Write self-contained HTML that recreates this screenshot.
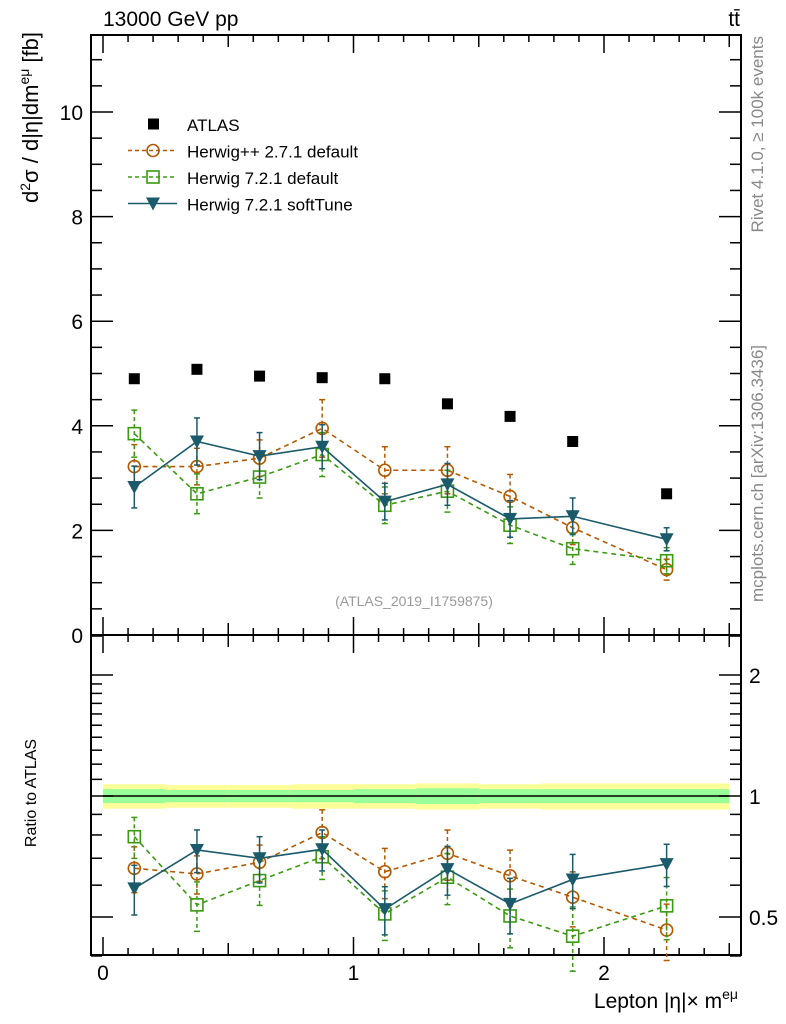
<!DOCTYPE html>
<html><head><meta charset="utf-8">
<style>
html,body{margin:0;padding:0;background:#fff;}
svg{display:block;font-family:"Liberation Sans",sans-serif;}
</style></head>
<body>
<svg id="chart" width="786" height="1024" viewBox="0 0 786 1024" xmlns="http://www.w3.org/2000/svg"></svg>
<script>
const binCenters=[0.125,0.375,0.625,0.875,1.125,1.375,1.625,1.875,2.25];
const binEdges=[0,0.25,0.5,0.75,1,1.25,1.5,1.75,2,2.5];
const atlasVals=[4.9,5.08,4.95,4.92,4.9,4.42,4.18,3.7,2.7];
const hppVals=[3.22,3.22,3.38,3.95,3.15,3.15,2.65,2.05,1.25];
const hppErr=[0.42,0.35,0.35,0.55,0.45,0.45,0.42,0.32,0.2];
const h7Vals=[3.85,2.7,3.02,3.45,2.48,2.75,2.1,1.65,1.42];
const h7Err=[0.45,0.38,0.4,0.42,0.35,0.4,0.35,0.3,0.25];
const softVals=[2.83,3.7,3.42,3.6,2.55,2.88,2.22,2.27,1.83];
const softErr=[0.4,0.45,0.45,0.42,0.35,0.4,0.35,0.35,0.22];
const hppRatio=[0.661,0.640,0.684,0.811,0.648,0.720,0.633,0.560,0.464];
const h7Ratio=[0.792,0.536,0.616,0.706,0.509,0.628,0.503,0.448,0.533];
const softRatio=[0.589,0.734,0.700,0.737,0.523,0.658,0.539,0.620,0.677];
const bandInner=[0.04,0.035,0.035,0.035,0.04,0.045,0.04,0.04,0.04];
const bandOuter=[0.07,0.065,0.065,0.07,0.07,0.075,0.07,0.075,0.075];
const mainYTicks=[0,2,4,6,8,10];
const ratioYTicks=[0.5,1,2];
const xTicks=[0,1,2];

const svg=document.getElementById('chart');
const NS='http://www.w3.org/2000/svg';
function el(tag,attrs,parent){const e=document.createElementNS(NS,tag);for(const k in attrs)e.setAttribute(k,attrs[k]);(parent||svg).appendChild(e);return e;}
const L=91,R=741,T=35,M=635,B=955;
const X=v=>103+v*250.5;
const Ym=v=>635-v*52.3;
const Yr=v=>796-Math.log2(v)*121;

const bands=el('g',{});


for(let i=0;i<binCenters.length;i++){
  const x0=X(binEdges[i]),x1=X(binEdges[i+1]);
  el('rect',{x:x0,y:Yr(1+bandOuter[i]),width:x1-x0,height:Yr(1-bandOuter[i])-Yr(1+bandOuter[i]),fill:'#ffff99'},bands);
}
for(let i=0;i<binCenters.length;i++){
  const x0=X(binEdges[i]),x1=X(binEdges[i+1]);
  el('rect',{x:x0,y:Yr(1+bandInner[i]),width:x1-x0,height:Yr(1-bandInner[i])-Yr(1+bandInner[i]),fill:'#99ff99'},bands);
}
const one=el('line',{x1:X(0),x2:X(2.5),y1:Yr(1),y2:Yr(1),stroke:'#000','stroke-width':1.5});



for(const [y0,y1,n] of [[T,M,'main-frame'],[M,B,'ratio-frame']]){
  const r=el('rect',{x:L,y:y0,width:R-L,height:y1-y0,fill:'none',stroke:'#000','stroke-width':2});
  
  
}
for(const [y0,dir] of [[T,1],[M,-1],[M,1],[B,-1]]){
  for(let v=0;v<=2.5001;v+=0.1){
    const major=Math.abs(v-Math.round(v))<1e-6;
    const mid=Math.abs(v*2-Math.round(v*2))<1e-6;
    const len=major?18:(mid?12:7);
    el('line',{x1:X(v),x2:X(v),y1:y0,y2:y0+dir*len,stroke:'#000','stroke-width':1.5});
  }
}
for(let v=0;v<=11.4;v+=0.5){
  const major=Math.abs(v%2)<1e-6;
  const len=major?22:11;
  el('line',{x1:L,x2:L+len,y1:Ym(v),y2:Ym(v),stroke:'#000','stroke-width':1.5});
  el('line',{x1:R,x2:R-len,y1:Ym(v),y2:Ym(v),stroke:'#000','stroke-width':1.5});
}
const mtl=el('g',{});


mainYTicks.forEach(v=>{const t=el('text',{x:L-8,y:Ym(v)+8,'text-anchor':'end','font-size':21},mtl);t.textContent=v;});
const minorR=[0.4,0.5,0.6,0.7,0.8,0.9,1,1.1,1.2,1.3,1.4,1.5,1.6,1.7,1.8,1.9,2,2.5];
minorR.forEach(v=>{
  const major=ratioYTicks.includes(v);
  const len=major?22:11;
  el('line',{x1:L,x2:L+len,y1:Yr(v),y2:Yr(v),stroke:'#000','stroke-width':1.5});
  el('line',{x1:R,x2:R-len,y1:Yr(v),y2:Yr(v),stroke:'#000','stroke-width':1.5});
});
const rtl=el('g',{});


ratioYTicks.forEach(v=>{const t=el('text',{x:R+8,y:Yr(v)+8,'font-size':21},rtl);t.textContent=v;});
const xtl=el('g',{});


xTicks.forEach(v=>{const t=el('text',{x:X(v),y:980,'text-anchor':'middle','font-size':21},xtl);t.textContent=v;});

function errbar(g,x,y0,y1,color,dash){
  el('line',{x1:x,x2:x,y1:y0,y2:y1,stroke:color,'stroke-width':1.5,'stroke-dasharray':dash||'none'},g);
  el('line',{x1:x-3,x2:x+3,y1:y0,y2:y0,stroke:color,'stroke-width':1.5},g);
  el('line',{x1:x-3,x2:x+3,y1:y1,y2:y1,stroke:color,'stroke-width':1.5},g);
}
function marker(g,type,x,y,color){
  if(type==='circle')el('circle',{cx:x,cy:y,r:6,fill:'none',stroke:color,'stroke-width':1.6},g);
  else if(type==='square')el('rect',{x:x-6,y:y-6,width:12,height:12,fill:'none',stroke:color,'stroke-width':1.6},g);
  else if(type==='tri')el('path',{d:`M${x-7},${y-6}L${x+7},${y-6}L${x},${y+7}Z`,fill:color},g);
}
function series(name,vals,errs,Y,relErr,color,dash,type){
  const g=el('g',{});
  
  
  el('polyline',{points:binCenters.map((c,i)=>X(c)+','+Y(vals[i])).join(' '),fill:'none',stroke:color,'stroke-width':1.6,'stroke-dasharray':dash||'none'},g);
  binCenters.forEach((c,i)=>{
    const e=relErr?vals[i]*errs[i]:errs[i];
    errbar(g,X(c),Y(vals[i]+e),Y(Math.max(vals[i]-e,0.01)),color,dash?'4,3':null);
    marker(g,type,X(c),Y(vals[i]),color);
  });
}
const cO='#b35900',cG='#3a9a10',cB='#1a5a6a';
series('herwigpp-271-series',hppVals,hppErr,Ym,false,cO,'5,4','circle');
series('herwig-721-default-series',h7Vals,h7Err,Ym,false,cG,'5,4','square');
series('herwig-721-softtune-series',softVals,softErr,Ym,false,cB,null,'tri');
const relH=hppErr.map((e,i)=>e/hppVals[i]),relG=h7Err.map((e,i)=>e/h7Vals[i]),relS=softErr.map((e,i)=>e/softVals[i]);
series('herwigpp-271-ratio',hppRatio,relH,Yr,true,cO,'5,4','circle');
series('herwig-721-default-ratio',h7Ratio,relG,Yr,true,cG,'5,4','square');
series('herwig-721-softtune-ratio',softRatio,relS,Yr,true,cB,null,'tri');
const ag=el('g',{});


binCenters.forEach((c,i)=>el('rect',{x:X(c)-5.5,y:Ym(atlasVals[i])-5.5,width:11,height:11,fill:'#000'},ag));

const lg=el('g',{});


const leg=[['ATLAS',null,null,'atlas'],['Herwig++ 2.7.1 default',cO,'4,3','circle'],['Herwig 7.2.1 default',cG,'4,3','square'],['Herwig 7.2.1 softTune',cB,null,'tri']];
leg.forEach((l,i)=>{
  const y=124+i*26.5;
  if(l[3]==='atlas')el('rect',{x:148,y:y-5.5,width:11,height:11,fill:'#000'},lg);
  else{el('line',{x1:128,x2:177,y1:y,y2:y,stroke:l[1],'stroke-width':1.5,'stroke-dasharray':l[2]||'none'},lg);marker(lg,l[3],153,y,l[1]);}
  const t=el('text',{x:187,y:y+7,'font-size':17},lg);t.textContent=l[0];
});

function txt(name,attrs,s){const t=el('text',attrs);t.textContent=s;return t;}
txt('energy-label',{x:103,y:26,'font-size':21},'13000 GeV pp');
txt('process-label',{x:740,y:26,'font-size':21,'text-anchor':'end'},'tt\u0304');
txt('analysis-label',{x:414,y:606,'font-size':14,fill:'#999','text-anchor':'middle'},'(ATLAS_2019_I1759875)');
txt('rivet-label',{x:0,y:0,'font-size':17,fill:'#888','text-anchor':'end',transform:'translate(763,36) rotate(-90)'},'Rivet 4.1.0, \u2265 100k events');
txt('mcplots-label',{x:0,y:0,'font-size':17,fill:'#888','text-anchor':'end',transform:'translate(763,345) rotate(-90)'},'mcplots.cern.ch [arXiv:1306.3436]');
const yt=el('text',{x:0,y:0,'font-size':22,'text-anchor':'end',transform:'translate(38,32) rotate(-90)'});


yt.innerHTML='d<tspan dy="-8" font-size="14">2</tspan><tspan dy="8">σ / d|η|dm</tspan><tspan dy="-9" font-size="14">eμ</tspan><tspan dy="9"> [fb]</tspan>';
txt('ratio-y-axis-title',{x:0,y:0,'font-size':16,'text-anchor':'middle',transform:'translate(36,793) rotate(-90)'},'Ratio to ATLAS');
const xt=el('text',{x:738,y:1008,'font-size':21,'text-anchor':'end'});


xt.innerHTML='Lepton |η|× m<tspan dy="-9" font-size="14">eμ</tspan>';
</script>
</body></html>
